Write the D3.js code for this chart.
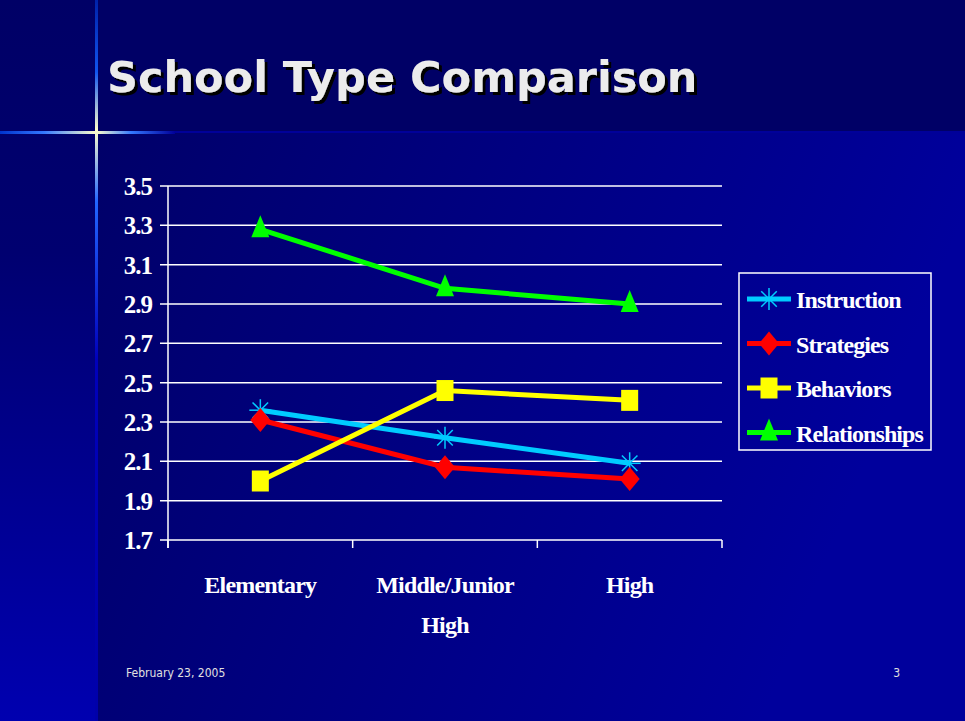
<!DOCTYPE html>
<html>
<head>
<meta charset="utf-8">
<script src="https://cdn.jsdelivr.net/npm/d3@7"></script>
<style>
  body { margin: 0; background: #000066; }
  svg { display: block; }
</style>
</head>
<body>
<div id="chart"></div>
<script>
// data
const categories = [["Elementary"], ["Middle/Junior", "High"], ["High"]]
const seriesNames = ["Instruction", "Strategies", "Behaviors", "Relationships"]
const instruction = [2.36, 2.22, 2.09]
const strategies = [2.31, 2.07, 2.01]
const behaviors = [2.00, 2.46, 2.41]
const relationships = [3.28, 2.98, 2.90]
const yTicks = [1.7, 1.9, 2.1, 2.3, 2.5, 2.7, 2.9, 3.1, 3.3, 3.5]

const W = 965, H = 721
const svg = d3.select("#chart").append("svg")
    .attr("width", W)
    .attr("height", H)

const defs = svg.append("defs")

// background gradients
let bg = defs.append("linearGradient").attr("id", "bg").attr("x1", 0).attr("x2", 1).attr("y1", 0).attr("y2", 0.3)
bg.append("stop").attr("offset", 0).attr("stop-color", "#000060")
bg.append("stop").attr("offset", 1).attr("stop-color", "#00009c")

let strip = defs.append("linearGradient").attr("id", "strip").attr("x1", 0).attr("x2", 0).attr("y1", 0).attr("y2", 1)
strip.append("stop").attr("offset", 0).attr("stop-color", "#000066")
strip.append("stop").attr("offset", 0.35).attr("stop-color", "#000070")
strip.append("stop").attr("offset", 1).attr("stop-color", "#0000b0")

let hGlow = defs.append("linearGradient").attr("id", "hglow").attr("x1", 0).attr("x2", 1).attr("y1", 0).attr("y2", 0)
hGlow.append("stop").attr("offset", 0).attr("stop-color", "#0033cc")
hGlow.append("stop").attr("offset", 0.25).attr("stop-color", "#3377ff")
hGlow.append("stop").attr("offset", 0.55).attr("stop-color", "#ffffcc")
hGlow.append("stop").attr("offset", 0.75).attr("stop-color", "#3377ff")
hGlow.append("stop").attr("offset", 1).attr("stop-color", "#000099")

let vGlow = defs.append("linearGradient").attr("id", "vglow").attr("x1", 0).attr("x2", 0).attr("y1", 0).attr("y2", 1)
vGlow.append("stop").attr("offset", 0).attr("stop-color", "#0022aa")
vGlow.append("stop").attr("offset", 0.1).attr("stop-color", "#1155ee")
vGlow.append("stop").attr("offset", 0.18).attr("stop-color", "#ffffcc")
vGlow.append("stop").attr("offset", 0.28).attr("stop-color", "#2266ff")
vGlow.append("stop").attr("offset", 0.5).attr("stop-color", "#0000bb")
vGlow.append("stop").attr("offset", 1).attr("stop-color", "#0000aa")

// title shadow
defs.append("filter").attr("id", "shadow")
    .attr("x", "-5%").attr("y", "-20%").attr("width", "110%").attr("height", "140%")
    .append("feDropShadow")
        .attr("dx", 3).attr("dy", 3)
        .attr("stdDeviation", 0.4)
        .attr("flood-color", "#000000")
        .attr("flood-opacity", 1)

svg.append("rect").attr("width", W).attr("height", H).attr("fill", "url(#bg)")
svg.append("rect").attr("x", 0).attr("y", 0).attr("width", W).attr("height", 132).attr("fill", "#000066")
svg.append("rect").attr("x", 0).attr("y", 0).attr("width", 96).attr("height", H).attr("fill", "url(#strip)")

// decorative cross lines
svg.append("rect").attr("x", 175).attr("y", 131).attr("width", W - 175).attr("height", 2).attr("fill", "#000099")
svg.append("rect").attr("x", 0).attr("y", 131).attr("width", 175).attr("height", 3).attr("fill", "url(#hglow)")
svg.append("rect").attr("x", 95).attr("y", 0).attr("width", 3).attr("height", H).attr("fill", "url(#vglow)")

svg.append("text")
    .attr("x", 107).attr("y", 92)
    .text("School Type Comparison")
    .style("font-family", "DejaVu Sans, Verdana, sans-serif")
    .style("font-weight", "bold")
    .style("font-size", "43px")
    .attr("fill", "#ececec")
    .attr("filter", "url(#shadow)")

// chart
const plotLeft = 168, plotRight = 722, plotTop = 186, plotBottom = 540
const x = d3.scaleBand().domain(d3.range(categories.length)).range([plotLeft, plotRight])
const y = d3.scaleLinear().domain([1.7, 3.5]).range([plotBottom, plotTop])

const g = svg.append("g")

g.selectAll(".grid")
    .data(yTicks)
    .enter()
    .append("line")
        .attr("x1", plotLeft - 8)
        .attr("x2", plotRight)
        .attr("y1", d => y(d))
        .attr("y2", d => y(d))
        .attr("stroke", "#ffffff")
        .attr("stroke-width", 1.5)

g.append("line")
    .attr("x1", plotLeft).attr("x2", plotLeft)
    .attr("y1", plotTop).attr("y2", plotBottom + 8)
    .attr("stroke", "#ffffff").attr("stroke-width", 1.5)

// category tick marks
g.selectAll(".xtick")
    .data(d3.range(categories.length + 1))
    .enter()
    .append("line")
        .attr("x1", i => plotLeft + i * x.bandwidth())
        .attr("x2", i => plotLeft + i * x.bandwidth())
        .attr("y1", plotBottom)
        .attr("y2", plotBottom + 8)
        .attr("stroke", "#ffffff").attr("stroke-width", 1.5)

g.selectAll(".ylab")
    .data(yTicks)
    .enter()
    .append("text")
        .attr("x", 152)
        .attr("y", d => y(d) + 9)
        .attr("text-anchor", "end")
        .text(d => d.toFixed(1))
        .style("font-family", "Liberation Serif, Times New Roman, serif")
        .style("font-weight", "bold")
        .style("font-size", "25px")
        .style("letter-spacing", "-1px")
        .attr("fill", "#ffffff")

categories.forEach((lines, i) => {
    lines.forEach((s, j) => {
        g.append("text")
            .attr("x", x(i) + x.bandwidth() / 2)
            .attr("y", 593 + j * 40)
            .attr("text-anchor", "middle")
            .text(s)
            .style("font-family", "Liberation Serif, Times New Roman, serif")
            .style("font-weight", "bold")
            .style("font-size", "24px")
            .style("letter-spacing", "-0.8px")
            .attr("fill", "#ffffff")
    })
})

const series = [
    {name: seriesNames[0], values: instruction, color: "#00ccff", marker: "star"},
    {name: seriesNames[1], values: strategies, color: "#ff0000", marker: "diamond"},
    {name: seriesNames[2], values: behaviors, color: "#ffff00", marker: "square"},
    {name: seriesNames[3], values: relationships, color: "#00ff00", marker: "triangle"},
]

const drawMarker = (sel, type, color, cx, cy) => {
    if (type === "star") {
        let r = 11
        d3.range(4).forEach(k => {
            let a = k * Math.PI / 4
            sel.append("line")
                .attr("x1", cx - r * Math.cos(a)).attr("y1", cy - r * Math.sin(a))
                .attr("x2", cx + r * Math.cos(a)).attr("y2", cy + r * Math.sin(a))
                .attr("stroke", color).attr("stroke-width", 1.5)
        })
    } else if (type === "diamond") {
        sel.append("path")
            .attr("d", `M${cx},${cy - 12}L${cx + 10},${cy}L${cx},${cy + 12}L${cx - 10},${cy}Z`)
            .attr("fill", color)
    } else if (type === "square") {
        sel.append("rect")
            .attr("x", cx - 8.5).attr("y", cy - 10.5)
            .attr("width", 17).attr("height", 21)
            .attr("fill", color)
    } else {
        sel.append("path")
            .attr("d", `M${cx},${cy - 14}L${cx + 9},${cy + 8}L${cx - 9},${cy + 8}Z`)
            .attr("fill", color)
    }
}

const line = d3.line()
    .x((d, i) => x(i) + x.bandwidth() / 2)
    .y(d => y(d))

series.forEach(s => {
    g.append("path")
        .attr("d", line(s.values))
        .attr("fill", "none")
        .attr("stroke", s.color)
        .attr("stroke-width", 5)
})
series.forEach(s => {
    s.values.forEach((v, i) => drawMarker(g, s.marker, s.color, x(i) + x.bandwidth() / 2, y(v)))
})

// legend
const legend = svg.append("g")
legend.append("rect")
    .attr("x", 739).attr("y", 273)
    .attr("width", 192).attr("height", 177)
    .attr("fill", "none")
    .attr("stroke", "#ffffff").attr("stroke-width", 1.5)

series.forEach((s, i) => {
    let ly = 299 + i * 44.5
    legend.append("line")
        .attr("x1", 747).attr("x2", 791)
        .attr("y1", ly).attr("y2", ly)
        .attr("stroke", s.color).attr("stroke-width", 5)
    drawMarker(legend, s.marker, s.color, 769, ly)
    legend.append("text")
        .attr("x", 796).attr("y", ly + 9)
        .text(s.name)
        .style("font-family", "Liberation Serif, Times New Roman, serif")
        .style("font-weight", "bold")
        .style("font-size", "24px")
        .style("letter-spacing", "-0.9px")
        .attr("fill", "#ffffff")
})

// footer
svg.append("text")
    .attr("x", 126).attr("y", 677)
    .text("February 23, 2005")
    .style("font-family", "DejaVu Sans Condensed, DejaVu Sans, sans-serif")
    .style("font-size", "12px")
    .attr("fill", "#e0e0e0")
svg.append("text")
    .attr("x", 900).attr("y", 677)
    .attr("text-anchor", "end")
    .text("3")
    .style("font-family", "DejaVu Sans Condensed, DejaVu Sans, sans-serif")
    .style("font-size", "12px")
    .attr("fill", "#e0e0e0")
</script>
</body>
</html>
